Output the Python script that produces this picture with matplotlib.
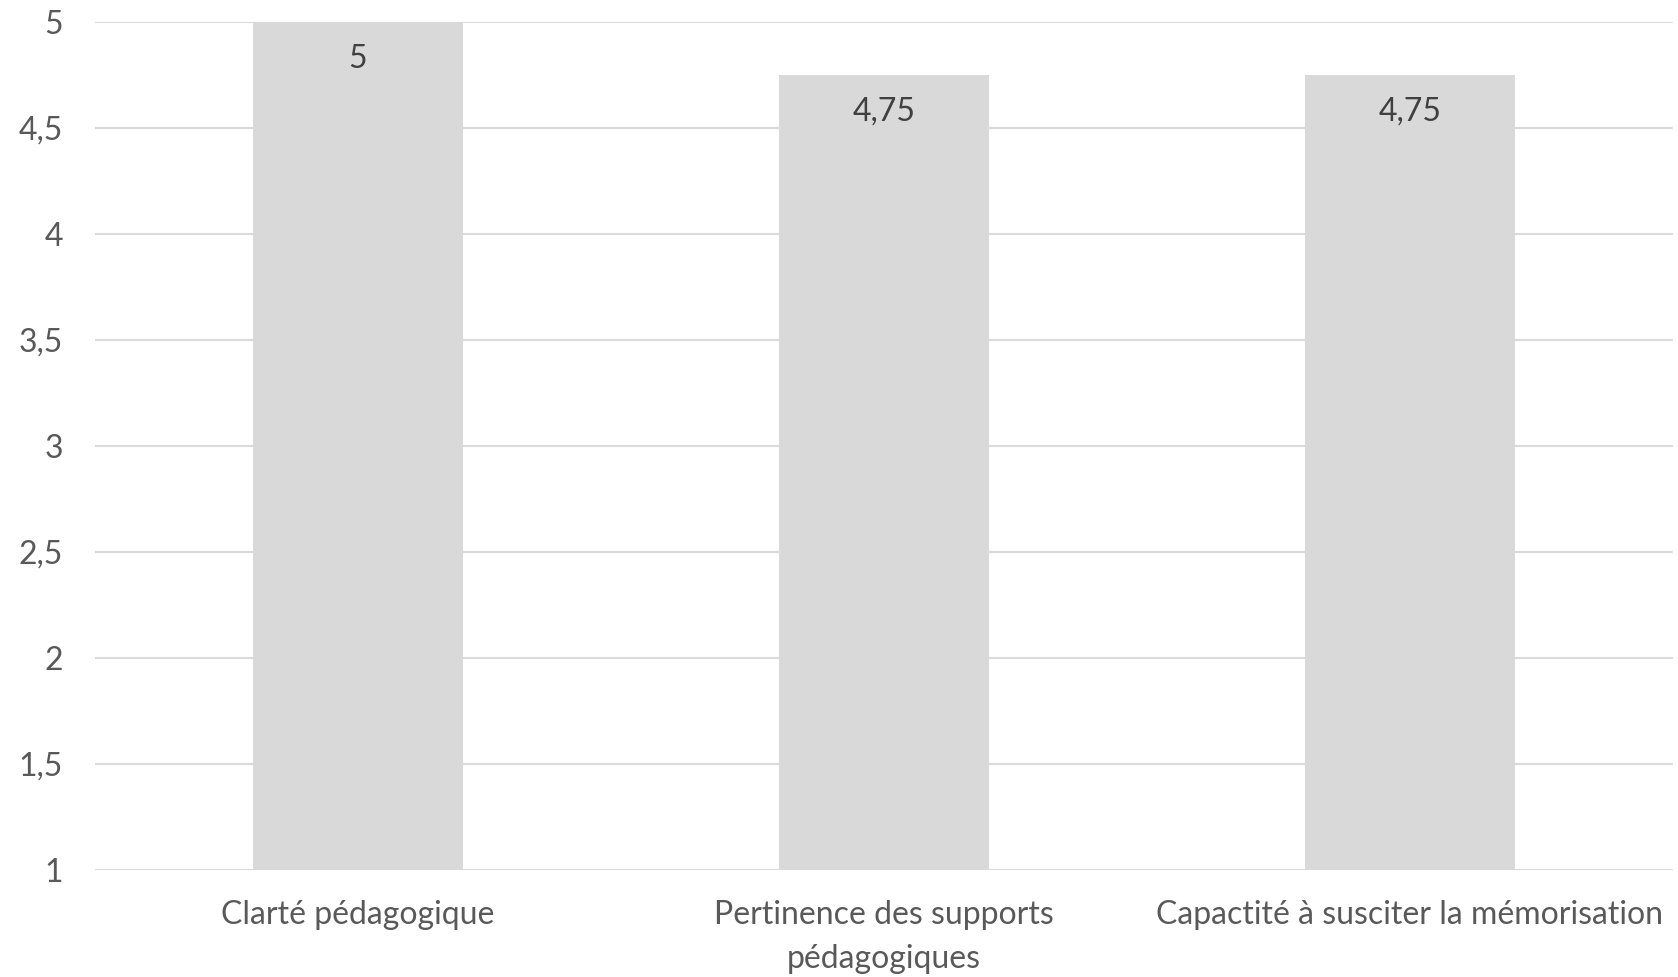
import matplotlib
matplotlib.use("Agg")
import matplotlib.pyplot as plt

categories = ["Clarté pédagogique", "Pertinence des supports\npédagogiques",
              "Capactité à susciter la mémorisation"]
values = [5, 4.75, 4.75]
yticks = [1, 1.5, 2, 2.5, 3, 3.5, 4, 4.5, 5]

plt.rcParams['font.family'] = ['Lato', 'DejaVu Sans']

W, H = 1678, 977
fig = plt.figure(figsize=(W / 100, H / 100), dpi=100)
ax = fig.add_axes([95 / W, (H - 870) / H, (1673 - 95) / W, (870 - 22) / H])

x = list(range(len(categories)))
bars = ax.bar(x, values, width=0.4, color="#d9d9d9", zorder=2, bottom=0)
ax.set_ylim(1, 5)
ax.set_xlim(-0.5, len(categories) - 0.5)
ax.set_yticks(yticks)
ax.set_yticklabels([("%g" % t).replace('.', ',') for t in yticks])
ax.set_xticks(x)
ax.set_xticklabels(categories, linespacing=1.58)

ax.grid(axis='y', color="#d9d9d9", linewidth=1.5, zorder=0)
for s in ax.spines.values():
    s.set_visible(False)
ax.tick_params(axis='both', length=0, labelsize=23, labelcolor="#595959")
ax.tick_params(axis='y', pad=23)
ax.tick_params(axis='x', pad=21.5)

for xi, v in zip(x, values):
    ax.annotate(("%g" % v).replace('.', ','), xy=(xi, v), xytext=(0, -26.5),
                textcoords='offset points', ha='center', va='center',
                fontsize=23, color="#404040", zorder=3)

fig.savefig("out.png", dpi=100)
